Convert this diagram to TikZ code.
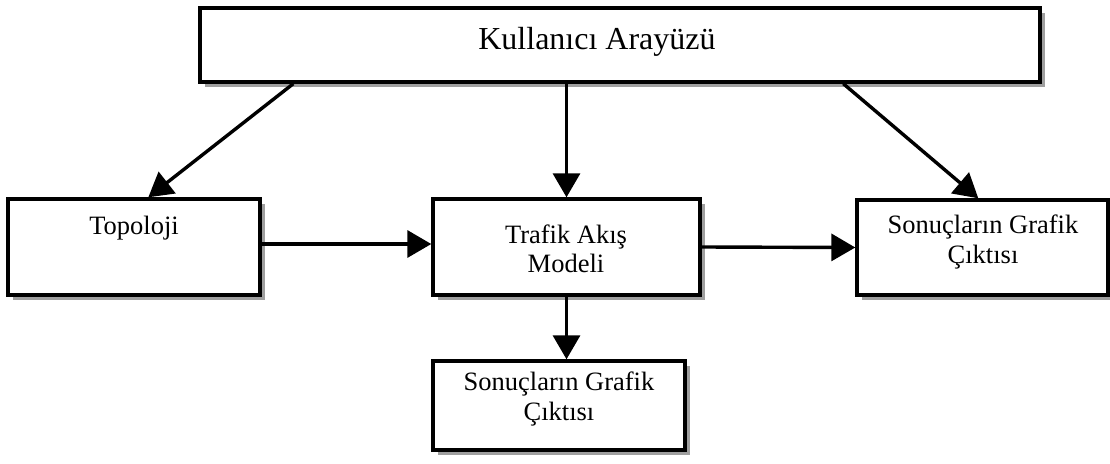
\documentclass[tikz,border=0pt]{standalone}
\usepackage{fontspec}
\setmainfont{Liberation Serif}
\usetikzlibrary{arrows.meta,shadows}
\tikzset{
  box/.style={draw=black, line width=3.4pt, fill=white, inner sep=0pt,
    drop shadow={shadow xshift=5pt, shadow yshift=-5pt, fill=gray!75, opacity=1}},
  lbl/.style={align=center, inner sep=0pt, font=\fontsize{26.5}{29.5}\selectfont},
  arr/.style={line width=3.4pt, -{Triangle[length=24pt,width=27pt]}}
}
\begin{document}
\begin{tikzpicture}[x=1pt,y=-1pt]
  \useasboundingbox (0,0) rectangle (1110,463);
  % boxes
  \node[box, minimum width=840pt, minimum height=74pt] (ui) at (620,45) {};
  \node[box, minimum width=252pt, minimum height=96pt] (topo) at (134,247) {};
  \node[box, minimum width=267pt, minimum height=96pt] (traf) at (566.5,247) {};
  \node[box, minimum width=251pt, minimum height=95pt] (res) at (982.5,247.5) {};
  \node[box, minimum width=252pt, minimum height=89pt] (bot) at (559,405.5) {};
  % texts
  \node[lbl, font=\fontsize{32}{36}\selectfont] (tui) at (597,42) {Kullanıcı Arayüzü};
  \node[lbl] (ttopo) at (134,228) {Topoloji};
  \node[lbl] (ttraf) at (566,249) {Trafik Akış\\Modeli};
  \node[lbl] (tres) at (983,242) {Sonuçların Grafik\\Çıktısı};
  \node[lbl] (tbot) at (559,399) {Sonuçların Grafik\\Çıktısı};
  % connectors
  \draw[arr] ([xshift=95pt]ui.south west) -- ([xshift=142pt]topo.north west);
  \draw[arr] (traf.north |- ui.south) -- (traf.north);
  \draw[arr] ([xshift=645pt]ui.south west) -- ([xshift=123pt]res.north west);
  \draw[arr] ([yshift=3pt]topo.east) -- ([yshift=3pt]traf.west);
  \draw[arr] (traf.east) -- (res.west);
  \draw[arr] (traf.south) -- (traf.south |- bot.north);
\end{tikzpicture}
\end{document}
